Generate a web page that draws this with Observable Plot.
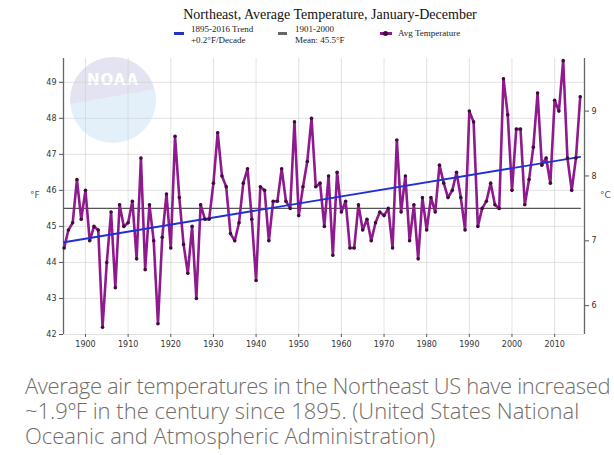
<!DOCTYPE html>
<html>
<head>
<meta charset="utf-8">
<script src="https://cdn.jsdelivr.net/npm/d3@7"></script>
<script src="https://cdn.jsdelivr.net/npm/@observablehq/plot@0.6"></script>
<style>
  html, body { margin: 0; padding: 0; background: #fff; width: 614px; height: 455px; overflow: hidden; }
  #wrap { position: relative; width: 614px; height: 455px; overflow: hidden; }
  #chart { position: absolute; left: 0; top: 0; }
  #logo { position: absolute; left: 70px; top: 57px; width: 86px; height: 86px; border-radius: 50%;
    background: linear-gradient(170deg, #dfdfef 0%, #dfdfef 46%, #e0eef8 47%, #e0eef8 100%); opacity: 0.85; }
  #logo span { position: absolute; left: 0; right: 0; top: 14px; text-align: center; color: #fff;
    font: bold 15px "DejaVu Sans", sans-serif; letter-spacing: 1px; }
  #title { position: absolute; left: 0; width: 660px; top: 7px; text-align: center;
    font: 14px "Liberation Serif", serif; color: #111; }
  .leg { position: absolute; font: 9px "Liberation Serif", serif; color: #222; line-height: 11px; white-space: nowrap; }
  .sw { position: absolute; height: 3px; }
  .cap { position: absolute; left: 25px; white-space: nowrap; height: 24px;
    font: 300 22px "Open Sans", sans-serif; color: #736c66; line-height: 24px; }
  .unit { position: absolute; font: 9px "DejaVu Sans", sans-serif; color: #555; }
</style>
</head>
<body>
<div id="wrap">
  <div id="logo"><span>NOAA</span></div>
  <div id="chart"></div>
  <div id="title">Northeast, Average Temperature, January-December</div>
  <div class="sw" style="left:174px;top:32px;width:10px;background:#2233cc"></div>
  <div class="leg" style="left:191px;top:24px">1895-2016 Trend<br>+0.2°F/Decade</div>
  <div class="sw" style="left:278px;top:32px;width:9px;background:#666"></div>
  <div class="leg" style="left:295px;top:24px">1901-2000<br>Mean: 45.5°F</div>
  <div class="sw" style="left:380px;top:32px;width:12px;background:#8e1a8e"></div>
  <div class="sw" style="left:383px;top:30.5px;width:5px;height:5px;border-radius:50%;background:#3a1038"></div>
  <div class="leg" style="left:398px;top:28px">Avg Temperature</div>
  <div class="unit" style="left:30px;top:190px">°F</div>
  <div class="unit" style="left:600px;top:190px">°C</div>
  <div class="cap" style="top:373px;letter-spacing:-0.35px">Average air temperatures in the Northeast US have increased</div>
  <div class="cap" style="top:398px">~1.9ºF in the century since 1895. (United States National</div>
  <div class="cap" style="top:423px">Oceanic and Atmospheric Administration)</div>
</div>
<script>
// ---- data ----
const startYear = 1895;
const endYear = 2016;
const temps = [
  44.4, 44.9, 45.1, 46.3, 45.2, 46.0, 44.6, 45.0, 44.9, 42.2, // 1895-1904
  44.0, 45.4, 43.3, 45.6, 45.0, 45.1, 45.7, 44.1, 46.9, 43.8, // 1905-1914
  45.6, 44.6, 42.3, 44.7, 45.9, 44.4, 47.5, 45.8, 44.5, 43.7, // 1915-1924
  45.0, 43.0, 45.6, 45.2, 45.2, 46.2, 47.6, 46.4, 46.1, 44.8, // 1925-1934
  44.6, 45.1, 46.2, 46.6, 45.2, 43.5, 46.1, 46.0, 44.6, 45.7, // 1935-1944
  45.7, 46.6, 45.7, 45.5, 47.9, 45.3, 46.1, 46.8, 48.0, 46.1, // 1945-1954
  46.2, 45.0, 46.4, 44.2, 46.5, 45.4, 45.7, 44.4, 44.4, 45.6, // 1955-1964
  44.9, 45.2, 44.6, 45.1, 45.4, 45.3, 45.5, 44.4, 47.4, 45.4, // 1965-1974
  46.4, 44.6, 45.6, 44.1, 45.8, 44.9, 45.8, 45.4, 46.7, 46.2, // 1975-1984
  45.8, 46.0, 46.5, 45.8, 44.9, 48.2, 47.9, 45.0, 45.5, 45.7, // 1985-1994
  46.2, 45.6, 45.5, 49.1, 48.1, 46.0, 47.7, 47.7, 45.6, 46.3, // 1995-2004
  47.2, 48.7, 46.7, 46.9, 46.2, 48.5, 48.2, 49.6, 46.9, 46.0, // 2005-2014
  46.9, 48.6                                                  // 2015-2016
];
const meanTemp = 45.5;
const trendStart = 44.56;   // trend value at 1895
const trendEnd = 46.93;     // trend value at 2016
const xTicks = [1900, 1910, 1920, 1930, 1940, 1950, 1960, 1970, 1980, 1990, 2000, 2010];
const yTicksF = [42, 43, 44, 45, 46, 47, 48, 49];
const yTicksC = [6, 7, 8, 9];
const xDomain = [1894.85, 2017];
const yDomain = [42, 49.66];

// ---- derived tables ----
const series = temps.map((t, i) => ({year: startYear + i, t}));
const meanLine = [{year: startYear, t: meanTemp}, {year: endYear, t: meanTemp}];
const trendLine = [{year: startYear, t: trendStart}, {year: endYear, t: trendEnd}];
const cToF = c => c * 9 / 5 + 32;
const fToC = f => (f - 32) * 5 / 9;

const chart = Plot.plot({
  width: 614,
  height: 355,
  marginLeft: 63,
  marginRight: 30,
  marginTop: 58,
  marginBottom: 21,
  style: {background: "transparent", fontFamily: "'DejaVu Sans', sans-serif", fontSize: "8px", color: "#333"},
  x: {domain: xDomain},
  y: {domain: yDomain},
  marks: [
    Plot.gridX(xTicks, {stroke: "#cfcfcf", strokeOpacity: 0.6}),
    Plot.gridY(yTicksF, {stroke: "#cfcfcf", strokeOpacity: 0.6}),
    Plot.ruleX([xDomain[0]], {stroke: "#666", strokeWidth: 1.3}),
    Plot.ruleX([xDomain[1]], {stroke: "#666", strokeWidth: 1.3}),
    Plot.axisY(yTicksF, {anchor: "left", tickSize: 4, tickPadding: 3, label: null, stroke: "#555", fontSize: 8}),
    Plot.axisY(yTicksC.map(cToF), {anchor: "right", tickSize: 4, tickPadding: 3, label: null, stroke: "#555",
      tickFormat: f => Math.round(fToC(f)), fontSize: 8}),
    Plot.axisX(xTicks, {tickSize: 3, tickPadding: 4, label: null, stroke: "#555", tickFormat: d => String(d), fontSize: 8}),
    Plot.line(meanLine, {x: "year", y: "t", stroke: "#555", strokeWidth: 1.4}),
    Plot.line(series, {x: "year", y: "t", stroke: "#8e1a8e", strokeWidth: 2.6, curve: "linear"}),
    Plot.line(trendLine, {x: "year", y: "t", stroke: "#1f2fd6", strokeWidth: 1.8}),
    Plot.dot(series, {x: "year", y: "t", r: 1.8, fill: "#3a1038", stroke: "none"})
  ]
});
document.getElementById("chart").appendChild(chart);
</script>
</body>
</html>
